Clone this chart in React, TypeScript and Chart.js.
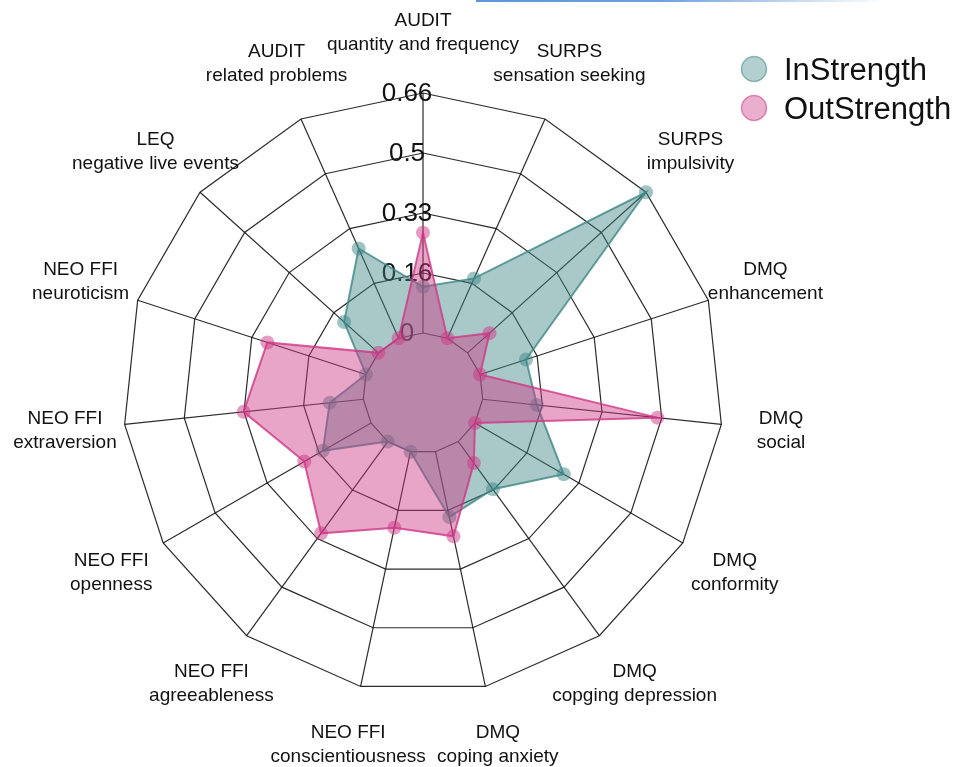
import React, { useEffect, useRef } from 'react';
import { Chart, registerables } from 'chart.js';

Chart.register(...registerables);

const CATEGORIES: string[][] = [
  ['AUDIT', 'quantity and frequency'],
  ['SURPS', 'sensation seeking'],
  ['SURPS', 'impulsivity'],
  ['DMQ', 'enhancement'],
  ['DMQ', 'social'],
  ['DMQ', 'conformity'],
  ['DMQ', 'copging depression'],
  ['DMQ', 'coping anxiety'],
  ['NEO FFI', 'conscientiousness'],
  ['NEO FFI', 'agreeableness'],
  ['NEO FFI', 'openness'],
  ['NEO FFI', 'extraversion'],
  ['NEO FFI', 'neuroticism'],
  ['LEQ', 'negative live events'],
  ['AUDIT', 'related problems'],
];

const SERIES_NAMES = ['InStrength', 'OutStrength'];
const IN_STRENGTH = [0.127, 0.18, 0.66, 0.133, 0.15, 0.282, 0.162, 0.184, 0, 0, 0.153, 0.093, 0, 0.127, 0.27];
const OUT_STRENGTH = [0.276, 0, 0.081, 0, 0.483, 0, 0.073, 0.238, 0.214, 0.312, 0.212, 0.331, 0.285, 0, 0];

const TICK_VALUES = [-0.165, 0, 0.165, 0.33, 0.495, 0.66];
const TICK_LABELS = ['', '0', '0.16', '0.33', '0.5', '0.66'];

const TEAL = '64,135,135';
const PINK = '206,55,133';
const GRID = 'rgba(20,20,20,0.9)';
const FONT = '"Liberation Sans", Arial, Helvetica, sans-serif';

function tickLabel(v: number): string {
  const i = TICK_VALUES.findIndex((t) => Math.abs(t - v) < 1e-6);
  return i >= 0 ? TICK_LABELS[i] : '';
}

const radarDecor = {
  id: 'radarDecor',
  beforeDatasetsDraw(chart: any) {
    const scale = chart.scales.r;
    const ctx = chart.ctx as CanvasRenderingContext2D;
    const n = chart.data.labels.length;
    ctx.save();
    ctx.strokeStyle = GRID;
    ctx.lineWidth = 1.2;
    for (let i = 0; i < n; i++) {
      const a = scale.getPointPositionForValue(i, 0);
      const b = scale.getPointPositionForValue(i, scale.max);
      ctx.beginPath();
      ctx.moveTo(a.x, a.y);
      ctx.lineTo(b.x, b.y);
      ctx.stroke();
    }
    ctx.font = `26px ${FONT}`;
    ctx.fillStyle = '#111';
    ctx.textAlign = 'center';
    ctx.textBaseline = 'middle';
    scale.ticks.forEach((t: any) => {
      if (!t.label) return;
      const d = scale.getDistanceFromCenterForValue(t.value);
      ctx.fillText(t.label, scale.xCenter - 16, scale.yCenter - d + 1);
    });
    ctx.restore();
  },
  afterDatasetsDraw(chart: any) {
    const scale = chart.scales.r;
    const ctx = chart.ctx as CanvasRenderingContext2D;
    const labels = chart.data.labels as string[][];
    ctx.save();
    ctx.font = `19px ${FONT}`;
    ctx.fillStyle = '#111';
    ctx.textAlign = 'center';
    ctx.textBaseline = 'middle';
    const lineH = 24;
    labels.forEach((lines, i) => {
      const p = scale.getPointPosition(i, scale.drawingArea * 1.2);
      lines.forEach((line, k) => {
        const y = p.y + (k - (lines.length - 1) / 2) * lineH;
        ctx.fillText(line, p.x, y);
      });
    });

    // legend
    const items = [
      { name: chart.data.datasets[1].label, rgb: TEAL },
      { name: chart.data.datasets[0].label, rgb: PINK },
    ];
    ctx.font = `31px ${FONT}`;
    ctx.textAlign = 'left';
    ctx.textBaseline = 'alphabetic';
    items.forEach((it, k) => {
      const cy = 69 + k * 39;
      ctx.beginPath();
      ctx.arc(754, cy, 12.5, 0, Math.PI * 2);
      ctx.fillStyle = `rgba(${it.rgb},0.4)`;
      ctx.fill();
      ctx.lineWidth = 1.5;
      ctx.strokeStyle = `rgba(${it.rgb},0.55)`;
      ctx.stroke();
      ctx.fillStyle = '#111';
      ctx.fillText(it.name, 784, cy + 11);
    });
    ctx.restore();
  },
};

export default function App() {
  const ref = useRef<HTMLCanvasElement>(null);
  useEffect(() => {
    const chart = new Chart(ref.current as HTMLCanvasElement, {
      type: 'radar',
      data: {
        labels: CATEGORIES,
        datasets: [
          {
            label: SERIES_NAMES[1],
            data: OUT_STRENGTH,
            order: 0,
            fill: 'start',
            backgroundColor: `rgba(${PINK},0.45)`,
            borderColor: `rgba(${PINK},0.8)`,
            borderWidth: 2,
            pointRadius: 7,
            pointBorderWidth: 0,
            pointBackgroundColor: `rgba(${PINK},0.5)`,
          },
          {
            label: SERIES_NAMES[0],
            data: IN_STRENGTH,
            order: 1,
            fill: 'start',
            backgroundColor: `rgba(${TEAL},0.45)`,
            borderColor: `rgba(${TEAL},0.8)`,
            borderWidth: 2,
            pointRadius: 7,
            pointBorderWidth: 0,
            pointBackgroundColor: `rgba(${TEAL},0.5)`,
          },
        ],
      } as any,
      options: {
        responsive: false,
        animation: false,
        devicePixelRatio: 1,
        layout: { padding: { left: 123, right: 235, top: 93, bottom: 74 } },
        plugins: { legend: { display: false }, tooltip: { enabled: false } },
        elements: { line: { tension: 0 } },
        scales: {
          r: {
            min: -0.165,
            max: 0.66,
            afterBuildTicks: (s: any) => {
              s.ticks = TICK_VALUES.map((v) => ({ value: v }));
            },
            ticks: { display: false, callback: (v: any) => tickLabel(Number(v)) },
            grid: { color: GRID, lineWidth: 1.2 },
            angleLines: { display: false },
            pointLabels: { display: false },
          },
        },
      } as any,
      plugins: [radarDecor],
    });
    return () => chart.destroy();
  }, []);
  return (
    <div style={{ position: 'absolute', left: 0, top: 0, width: 958, height: 767, overflow: 'hidden', background: '#fff' }}>
      <canvas ref={ref} width={958} height={767} style={{ display: 'block', width: 958, height: 767 }} />
      <div
        style={{
          position: 'absolute',
          left: 476,
          top: 0,
          width: 410,
          height: 2,
          background: 'linear-gradient(to right, rgba(95,150,215,1) 0%, rgba(95,150,215,0.9) 45%, rgba(95,150,215,0) 100%)',
        }}
      />
    </div>
  );
}
